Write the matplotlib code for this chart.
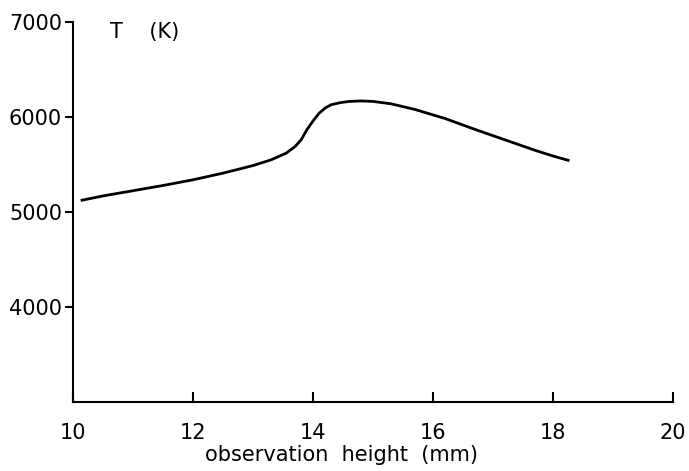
import numpy as np
import matplotlib.pyplot as plt

height = [10.15, 10.5, 11.0, 11.5, 12.0, 12.5, 13.0, 13.3, 13.55, 13.7, 13.8,
          13.9, 14.0, 14.1, 14.2, 14.3, 14.45, 14.6, 14.8, 15.0, 15.3, 15.7,
          16.2, 16.7, 17.2, 17.7, 18.0, 18.25]
temp = [5125, 5170, 5225, 5280, 5340, 5410, 5490, 5550, 5620, 5690, 5760,
        5870, 5960, 6040, 6095, 6130, 6152, 6165, 6170, 6165, 6140, 6080,
        5985, 5870, 5760, 5650, 5590, 5545]

xticks = [10, 12, 14, 16, 18, 20]
yticks = [4000, 5000, 6000, 7000]

fig = plt.figure(figsize=(6.89, 4.71), dpi=100)
ax = fig.add_axes([0.106, 0.1465, 0.871, 0.8065])
ax.plot(height, temp, c='black', lw=2)
ax.set_xlim(10, 20)
ax.set_ylim(3000, 7000)
ax.set_xticks(xticks)
ax.set_yticks(yticks)
ax.spines['top'].set_visible(False)
ax.spines['right'].set_visible(False)
ax.spines['left'].set_linewidth(1.5)
ax.spines['bottom'].set_linewidth(1.5)
ax.tick_params(axis='x', direction='in', length=7, width=1.5, pad=15, labelsize=15)
ax.tick_params(axis='y', direction='out', length=6, width=1.5, pad=2, labelsize=15)
ax.set_xlabel("observation  height  (mm)", fontsize=15)
ax.xaxis.set_label_coords(0.447, -0.112)
ax.text(10.62, 6900, "T    (K)", fontsize=15, va='center', ha='left')
fig.savefig("out.png", dpi=100)
